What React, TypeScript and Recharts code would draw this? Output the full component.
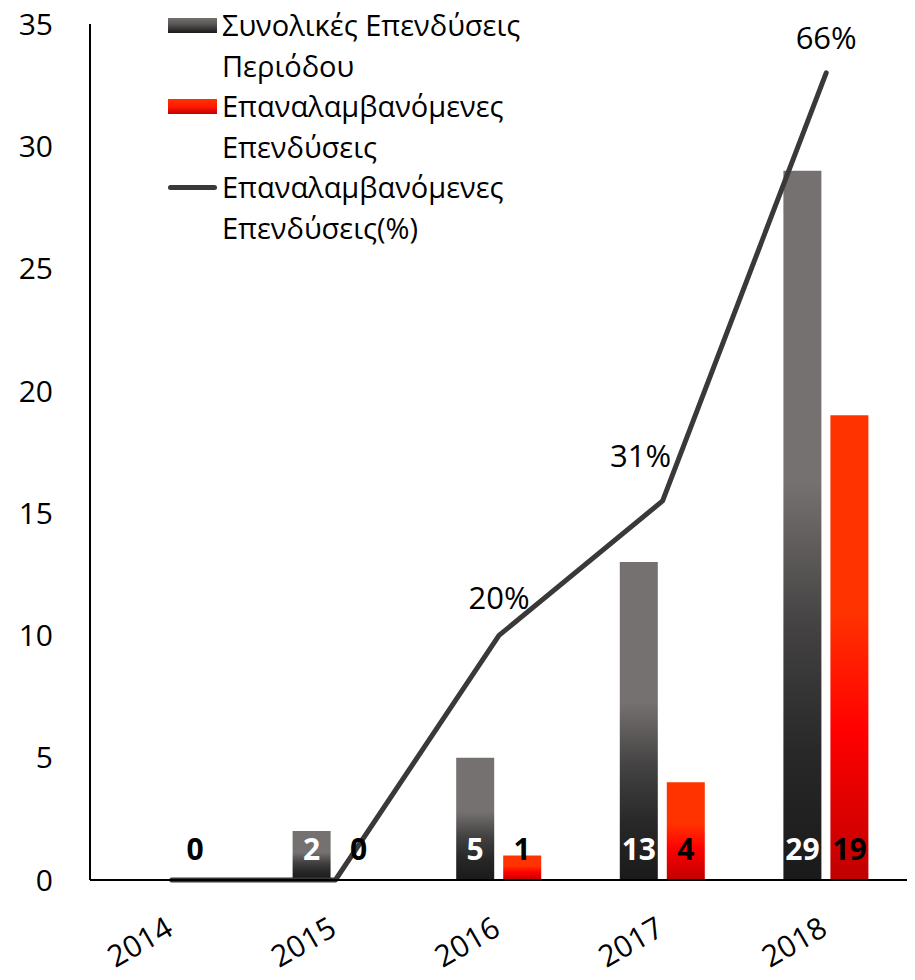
import React from "react";
import {
  ComposedChart,
  Bar,
  Line,
  XAxis,
  YAxis,
  Legend,
  LabelList,
} from "recharts";

const years = ["2014", "2015", "2016", "2017", "2018"];
const totalInvestments: (number | null)[] = [null, 2, 5, 13, 29];
const repeatInvestments = [0, 0, 1, 4, 19];
const repeatPct = [0, 0, 20, 31, 66];
const yTicks = [0, 5, 10, 15, 20, 25, 30, 35];

const SERIES_TOTAL = "Συνολικές Επενδύσεις Περιόδου";
const SERIES_REPEAT = "Επαναλαμβανόμενες Επενδύσεις";
const SERIES_PCT = "Επαναλαμβανόμενες Επενδύσεις(%)";

const data = years.map((y, i) => ({
  year: y,
  total: totalInvestments[i],
  repeat: repeatInvestments[i],
  pct: repeatPct[i],
}));

const FONT = "'Open Sans', 'Noto Sans', sans-serif";

const makeBarLabel = (color: string) => (props: any) => {
  const { x, y, width, height, value } = props;
  if (value === null || value === undefined || value === "") return null;
  return (
    <text
      x={Number(x) + Number(width) / 2}
      y={Number(y) + Number(height) - 32}
      fill={color}
      textAnchor="middle"
      dominantBaseline="central"
      fontFamily={FONT}
      fontWeight={700}
      fontSize={30}
    >
      {value}
    </text>
  );
};

const pctOffsets = [
  [0, -38],
  [0, -38],
  [0, -38],
  [-22, -46],
  [0, -36],
];

const PctLabel = (props: any) => {
  const { x, y, value, index } = props;
  if (!value) return null;
  const [dx, dy] = pctOffsets[index] || [0, -38];
  return (
    <text
      x={Number(x) + dx}
      y={Number(y) + dy}
      fill="#000"
      textAnchor="middle"
      dominantBaseline="central"
      fontFamily={FONT}
      fontSize={31}
    >
      {value}%
    </text>
  );
};

const XTick = (props: any) => {
  const { x, y, payload } = props;
  const ax = Number(x) + 3;
  const ay = Number(y) + 54;
  return (
    <text
      x={ax}
      y={ay}
      textAnchor="end"
      transform={`rotate(-30, ${ax}, ${ay})`}
      fill="#000"
      fontFamily={FONT}
      fontSize={30}
    >
      {payload.value}
    </text>
  );
};

const legendItems = [
  {
    lines: ["Συνολικές Επενδύσεις", "Περιόδου"],
    swatch: "bar",
    bg: "linear-gradient(to bottom, #767171 0%, #5a5757 40%, #1a1a1a 100%)",
  },
  {
    lines: ["Επαναλαμβανόμενες", "Επενδύσεις"],
    swatch: "bar",
    bg: "linear-gradient(to bottom, #ff3300 0%, #ff1a00 50%, #c00000 100%)",
  },
  {
    lines: ["Επαναλαμβανόμενες", "Επενδύσεις(%)"],
    swatch: "line",
    bg: "#3b3838",
  },
];

const renderLegend = () => (
  <div style={{ fontFamily: FONT, fontSize: 29, lineHeight: "40.5px", color: "#000" }}>
    {legendItems.map((it, i) => (
      <div key={i} style={{ position: "relative", paddingLeft: 54 }}>
        <div
          style={{
            position: "absolute",
            left: 0,
            top: it.swatch === "bar" ? 13 : 18,
            width: 49,
            height: it.swatch === "bar" ? 15 : 5,
            borderRadius: it.swatch === "bar" ? 0 : 3,
            background: it.bg,
          }}
        />
        {it.lines.map((l, j) => (
          <div key={j} style={{ whiteSpace: "nowrap" }}>
            {l}
          </div>
        ))}
      </div>
    ))}
  </div>
);

export default function App() {
  return (
    <div style={{ width: 915, height: 980, margin: "-8px 0 0 -8px", background: "#fff" }}>
      <ComposedChart
        width={915}
        height={980}
        data={data}
        margin={{ top: 24, right: 7, bottom: 10, left: 8 }}
        barSize={38}
        barGap={9}
      >
        <defs>
          <linearGradient id="grayGrad" x1="0" y1="0" x2="0" y2="1">
            <stop offset="0" stopColor="#767171" />
            <stop offset="0.44" stopColor="#767171" />
            <stop offset="0.64" stopColor="#444242" />
            <stop offset="0.82" stopColor="#282828" />
            <stop offset="1" stopColor="#1a1a1a" />
          </linearGradient>
          <linearGradient id="redGrad" x1="0" y1="0" x2="0" y2="1">
            <stop offset="0" stopColor="#ff3300" />
            <stop offset="0.42" stopColor="#ff3300" />
            <stop offset="0.68" stopColor="#ff0000" />
            <stop offset="1" stopColor="#c00000" />
          </linearGradient>
        </defs>
        <XAxis
          dataKey="year"
          height={90}
          axisLine={{ stroke: "#000", strokeWidth: 2 }}
          tickLine={false}
          tickSize={0}
          tickMargin={0}
          tick={<XTick />}
          interval={0}
        />
        <YAxis
          yAxisId="left"
          width={82}
          domain={[0, 35]}
          ticks={yTicks}
          interval={0}
          axisLine={{ stroke: "#000", strokeWidth: 2 }}
          tickLine={false}
          tickSize={0}
          tickMargin={37}
          tick={{ fill: "#000", fontSize: 30, fontFamily: FONT }}
        />
        <YAxis yAxisId="right" orientation="right" domain={[0, 70]} hide />
        <Legend
          layout="vertical"
          align="center"
          verticalAlign="middle"
          content={renderLegend}
          wrapperStyle={{ left: 168, top: 5, width: 440, height: 250 }}
        />
        <Bar
          yAxisId="left"
          dataKey="total"
          name={SERIES_TOTAL}
          fill="url(#grayGrad)"
          isAnimationActive={false}
        >
          <LabelList dataKey="total" content={makeBarLabel("#fff")} />
        </Bar>
        <Bar
          yAxisId="left"
          dataKey="repeat"
          name={SERIES_REPEAT}
          fill="url(#redGrad)"
          minPointSize={1}
          isAnimationActive={false}
        >
          <LabelList dataKey="repeat" content={makeBarLabel("#000")} />
        </Bar>
        <Line
          yAxisId="right"
          dataKey="pct"
          name={SERIES_PCT}
          type="linear"
          stroke="#3b3838"
          strokeWidth={5}
          strokeLinecap="round"
          strokeLinejoin="round"
          dot={false}
          isAnimationActive={false}
        >
          <LabelList dataKey="pct" content={<PctLabel />} />
        </Line>
      </ComposedChart>
    </div>
  );
}
